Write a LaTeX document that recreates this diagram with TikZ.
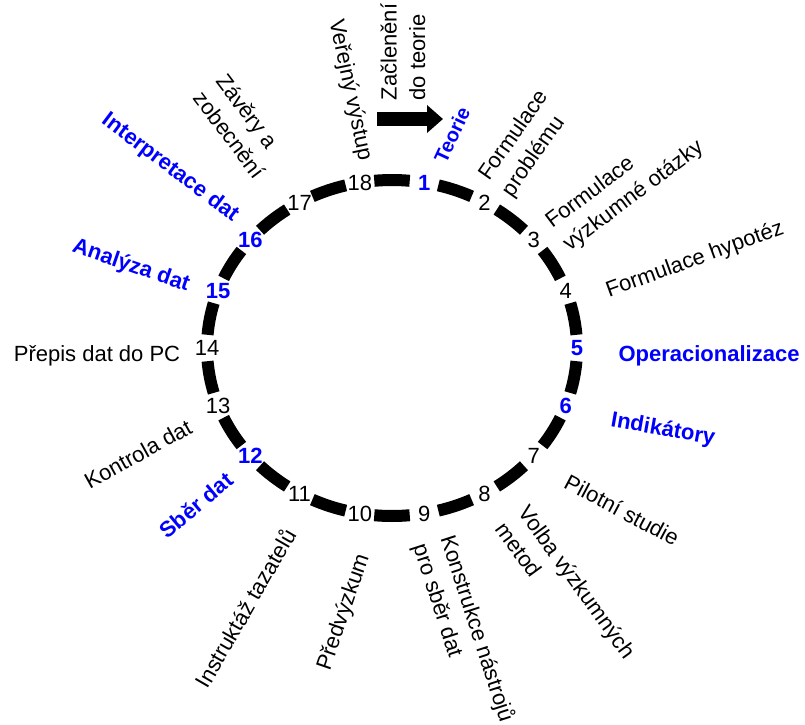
\documentclass[tikz,border=0pt]{standalone}
\usepackage{fontspec}
\setmainfont{Liberation Sans}
\usetikzlibrary{arrows.meta}
\definecolor{lblue}{RGB}{0,0,255}
\begin{document}
\begin{tikzpicture}[x=1pt,y=1pt,
  num/.style={font=\fontsize{22}{24}\selectfont, inner sep=0pt},
  keynum/.style={font=\fontsize{22}{24}\selectfont\bfseries, text=lblue, inner sep=0pt},
  lbl/.style={font=\fontsize{22}{28.5}\selectfont, inner sep=0pt, align=left},
  keylbl/.style={font=\fontsize{22}{28.5}\selectfont\bfseries, text=lblue, inner sep=0pt, align=left},
  dashseg/.style={line width=12pt},
  bigarrow/.style={line width=14pt, -{Triangle[length=16pt,width=27pt]}}
]
\useasboundingbox (0,0) rectangle (805,-724);
\def\cx{392}\def\cy{-348}\def\rx{185}\def\ry{168}
% ring segments
\foreach \a in {90,70,...,-250} {
  \draw[dashseg] ({\cx+\rx*cos(\a-5.5)},{\cy+\ry*sin(\a-5.5)})
    arc[start angle=\a-5.5, end angle=\a+5.5, x radius=\rx, y radius=\ry];
}
% numbers
\foreach \k in {2,3,4,7,8,9,10,11,13,14,17,18} {
  \node[num] (n\k) at ({\cx+\rx*cos(100-20*\k)},{\cy+\ry*sin(100-20*\k)}) {\k};
}
\foreach \k in {1,5,6,12,15,16} {
  \node[keynum] (n\k) at ({\cx+\rx*cos(100-20*\k)},{\cy+\ry*sin(100-20*\k)}) {\k};
}
% labels
\node[lbl, rotate=-78] (l18) at (350,-90) {Veřejný výstup};
\node[lbl, rotate=90] (l0) at (403,-52) {Začlenění\\do teorie};
\node[lbl, rotate=-53] (l17) at (241,-126) {Závěry a\\zobecnění};
\node[keylbl, rotate=-37] (l16) at (170,-168) {Interpretace dat};
\node[keylbl, rotate=-19] (l15) at (131,-266) {Analýza dat};
\node[lbl] (l14) at (97,-356) {Přepis dat do PC};
\node[lbl, rotate=29] (l13) at (138,-454) {Kontrola dat};
\node[keylbl, rotate=40] (l12) at (196,-505) {Sběr dat};
\node[lbl, rotate=60] (l11) at (245,-608) {Instruktáž tazatelů};
\node[lbl, rotate=71] (l10) at (344,-612) {Předvýzkum};
\node[lbl, rotate=-72] (l9) at (463,-633) {Konstrukce nástrojů\\pro sběr dat};
\node[lbl, rotate=-54] (l8) at (566,-590) {Volba výzkumných\\metod};
\node[lbl, rotate=-28] (l7) at (622,-510) {Pilotní studie};
\node[keylbl, rotate=-10] (l6) at (663,-430) {Indikátory};
\node[keylbl] (l5) at (709,-356) {Operacionalizace};
\node[lbl, rotate=20] (l4) at (695,-260) {Formulace hypotéz};
\node[lbl, rotate=37] (l3) at (625,-185) {Formulace\\výzkumné otázky};
\node[lbl, rotate=55] (l2) at (526,-144) {Formulace\\problému};
\node[keylbl, rotate=65, font=\fontsize{20}{24}\selectfont\bfseries] (l1) at (452,-135) {Teorie};
% arrow
\coordinate (arrS) at (377,-119);
\coordinate (arrE) at (443,-119);
\draw[bigarrow] (arrS) -- (arrE);
\end{tikzpicture}
\end{document}
